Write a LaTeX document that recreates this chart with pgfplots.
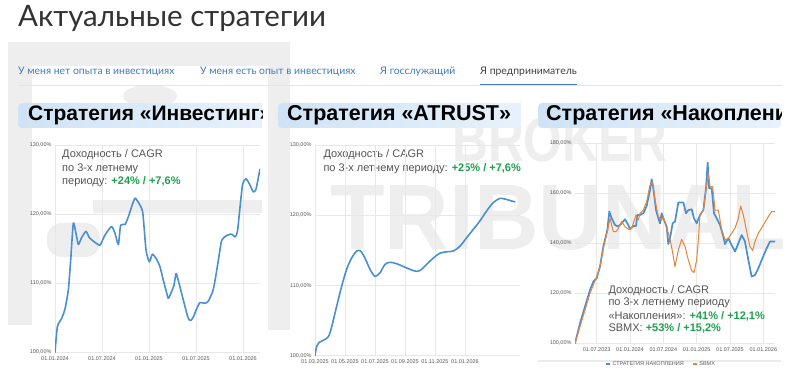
\documentclass[border=0pt]{standalone}
\usepackage{fontspec}
\setmainfont{Liberation Sans}
\newfontfamily\lato{Lato}
\usepackage{graphicx}
\usepackage{pgfplots}
\usepackage{pgfplotstable}
\pgfplotsset{compat=1.18}
\definecolor{lblue}{HTML}{4A8FD2}
\definecolor{lorange}{HTML}{E5853B}
\definecolor{gridc}{HTML}{E8E8E8}
\definecolor{tickc}{HTML}{5A5A5A}
\definecolor{annc}{HTML}{555555}
\definecolor{greenc}{HTML}{1DA04E}
\definecolor{tabblue}{HTML}{3F7CBF}
\definecolor{wm}{HTML}{EEEEEE}
\definecolor{hboxL}{HTML}{CFE3F6}
\definecolor{hboxR}{HTML}{E8F2FB}

\pgfplotstableread{
m v
0 100
0.30 103.7
0.85 104.9
1.28 106.3
1.70 109.0
2.00 113.3
2.34 118.7
2.68 117.2
2.98 115.6
3.40 116.6
3.96 117.5
4.38 116.6
5.11 115.9
5.74 115.5
6.17 116.5
6.51 117.2
7.23 118.2
7.66 117.2
8.09 115.6
8.38 118.4
8.94 118.5
9.36 119.6
9.79 121.1
10.21 122.3
10.64 121.7
11.19 120.3
11.62 114.8
12.04 113.1
12.43 114.2
12.89 113.6
13.40 112.4
13.83 110.4
14.26 108.6
14.47 107.8
14.89 108.8
15.19 109.7
15.45 111.4
15.74 110.4
16.17 108.5
16.60 106.6
17.02 104.9
17.32 104.6
17.66 105.1
18.09 106.3
18.51 107.2
19.15 107.1
19.57 107.4
20.13 108.8
20.43 110.4
20.85 113.3
21.28 116.2
21.91 116.9
22.55 117.1
22.98 116.7
23.28 117.4
23.62 121.0
23.96 124.4
24.38 125.1
24.81 124.4
25.32 123.2
25.66 123.6
25.96 125.3
26.17 126.5
}\investing

\pgfplotstableread{
m v
0 100
0.11 101.3
0.29 101.9
0.56 102.2
0.89 102.7
1.11 104.1
1.44 107.0
1.78 109.9
2.11 112.3
2.44 113.9
2.78 114.9
3.04 114.9
3.33 113.9
3.67 112.3
4.00 111.3
4.33 111.8
4.67 113.0
5.00 113.3
5.44 113.1
5.89 112.7
6.33 112.3
6.78 112.0
7.11 112.3
7.44 113.0
7.89 113.9
8.33 114.6
8.78 114.8
9.22 114.9
9.67 115.6
10.11 116.8
10.56 118.0
11.00 119.2
11.44 120.6
11.89 121.8
12.33 122.4
12.67 122.3
13.00 122.1
13.33 121.9
}\atrust

\pgfplotstableread{
m v
2.10 100
3.00 108
3.90 114.7
4.80 121.3
5.40 124.7
6.00 126
6.60 130.7
7.20 138.7
7.92 145.3
8.28 152.7
8.70 150
9.30 147.3
9.90 146.7
10.50 148
11.10 149.6
11.70 147.3
12.00 145.6
12.60 146.9
13.08 146.9
13.32 151.3
13.80 151.3
14.40 152
15.00 154.9
15.60 161.3
15.90 165.6
16.20 162
16.68 153.3
17.10 150
17.40 148
17.70 152
18.00 150
18.60 146.7
18.90 139.7
19.20 142
19.68 148
20.10 148.7
20.70 156.3
21.60 156.3
22.08 152
22.50 153.3
23.10 153.6
23.52 150
24.00 148
24.60 151.3
25.20 153.3
25.68 162
25.98 172.3
26.22 162
26.70 162
27.12 152
27.60 150
28.20 147.3
28.80 142.7
29.10 139.7
29.70 142
30.30 139.3
30.90 136.7
31.50 140
32.10 143.3
32.70 140.7
33.30 133.3
33.90 126.7
34.50 127.3
35.10 130
35.70 133.3
36.60 138
37.20 140.7
38.10 140.7
}\nakop

\pgfplotstableread{
m v
2.10 100
3.00 106.7
3.90 113.3
4.80 120
5.40 123.3
6.00 126.7
6.60 130.7
7.20 138
7.92 144.7
8.40 150
9.00 144.7
9.48 144.7
9.90 146
10.50 148.7
11.10 146.7
11.70 145.6
12.30 146
13.08 151.3
13.50 149.3
13.80 152
14.40 153.3
15.00 156.7
15.60 163.3
16.08 164.3
16.50 157.3
17.10 150.7
17.70 149.3
18.00 150.7
18.60 146
19.20 142
19.80 134.7
20.10 130.7
20.70 137.3
21.30 141.6
21.90 138.7
22.50 133.3
23.10 129.1
23.52 128.3
24.00 133.3
24.30 141.3
24.60 151.3
25.20 153.3
25.80 163.3
26.10 168
26.40 162.7
26.88 162.7
27.30 153.3
27.90 153.3
28.50 145.3
29.10 141.3
29.70 142
30.30 144
30.90 146
31.50 150
31.92 154.9
32.40 151.3
33.00 144.7
33.60 138.7
34.08 137.1
34.50 140.7
35.10 144
36.00 147.3
36.90 150.7
37.50 152.7
38.10 152.7
}\sbmx

\pgfplotsset{
  cardaxis/.style={
    scale only axis,
    axis line style={draw=none},
    major tick length=0pt,
    xmajorgrids, ymajorgrids,
    grid style={draw=gridc, line width=0.5pt},
    tick label style={font=\fontsize{5.5}{6}\selectfont, text=tickc},
    xticklabel style={yshift=-0.5pt},
    every axis plot/.append style={line join=round, line cap=round, no markers},
  }
}

\begin{document}
\begin{tikzpicture}[x=1pt,y=1pt]
\path[use as bounding box] (0pt,0pt) rectangle (800pt,369pt);
\fill[white] (0pt,0pt) rectangle (800pt,369pt);

% watermark logo (left)
\fill[wm] (8pt,44pt) rectangle (32pt,327pt);
\fill[wm] (8pt,303pt) rectangle (290pt,327pt);
\fill[wm] (268pt,39pt) rectangle (290pt,327pt);
\fill[wm] (150pt,273pt) ellipse (27pt and 11pt);
\fill[wm] (93pt,156pt) rectangle (262pt,169pt);
\fill[wm, rounded corners=15pt] (47pt,112pt) rectangle (100pt,146pt);
% watermark text
\node[anchor=base west, inner sep=0, text=wm] at (452pt,207pt) {\scalebox{0.8}[1]{\fontsize{62}{62}\selectfont\bfseries BROKER}};
\node[anchor=base west, inner sep=0, text=wm] at (330pt,119pt) {\scalebox{0.96}[1]{\fontsize{93}{93}\selectfont\bfseries TRIBUNAL}};

% page title
\node[anchor=base west, inner sep=0, text=black!80] at (18pt,342.3pt) {\lato\fontsize{29.5}{33}\selectfont Актуальные стратегии};

% tabs
\begin{scope}[every node/.style={anchor=base west, inner sep=0, font=\lato\fontsize{10.4}{12}\selectfont}]
\node[text=tabblue] at (18pt,294pt) {У меня нет опыта в инвестициях};
\node[text=tabblue] at (200pt,294pt) {У меня есть опыт в инвестициях};
\node[text=tabblue] at (380pt,294pt) {Я госслужащий};
\node[text=black!75] at (480pt,294pt) {Я предприниматель};
\end{scope}
\draw[black!10, line width=0.6pt] (18pt,284pt) -- (782pt,284pt);
\draw[tabblue, line width=1.4pt] (480pt,284.6pt) -- (577pt,284.6pt);

% ===== Card 1 =====
\begin{scope}
\clip (10pt,0pt) rectangle (262pt,275pt);
\shade[left color=hboxL, right color=hboxR, rounded corners=4pt] (18pt,241pt) rectangle (275pt,266pt);
\node[anchor=base west, inner sep=0] at (28pt,248pt) {\fontsize{21}{24}\selectfont\bfseries Стратегия «Инвестинг»};
\end{scope}
\begin{scope}
\clip (10pt,0pt) rectangle (262pt,275pt);
\begin{axis}[cardaxis, at={(55pt,16.7pt)}, anchor=south west,
  width=205pt, height=207.3pt,
  xmin=0, xmax=26.17, ymin=100, ymax=130,
  xtick={0,6,12,18,24},
  xticklabels={01.01.2024,01.07.2024,01.01.2025,01.07.2025,01.01.2026},
  ytick={100,110,120,130},
  yticklabels={{100,00\%},{110,00\%},{120,00\%},{130,00\%}}]
\addplot[lblue, line width=1.6pt, smooth, tension=0.35] table[x=m,y=v] {\investing};
\end{axis}
\end{scope}
\begin{scope}[every node/.style={anchor=base west, inner sep=0, text=annc, font=\fontsize{11}{13}\selectfont}]
\node at (62pt,211.7pt) {Доходность / CAGR};
\node at (62pt,197.3pt) {по 3-х летнему};
\node at (62pt,184pt) {периоду: \textcolor{greenc}{\bfseries +24\% / +7,6\%}};
\end{scope}

% ===== Card 2 =====
\begin{scope}
\clip (270pt,0pt) rectangle (521pt,275pt);
\shade[left color=hboxL, right color=hboxR, rounded corners=4pt] (278pt,241pt) rectangle (530pt,266pt);
\node[anchor=base west, inner sep=0] at (287pt,248pt) {\fontsize{21.5}{24}\selectfont\bfseries Стратегия «ATRUST»};
\node[anchor=base west, inner sep=0, text=annc, font=\fontsize{11}{13}\selectfont] at (323.3pt,211.7pt) {Доходность / CAGR};
\node[anchor=base west, inner sep=0, text=annc, font=\fontsize{11}{13}\selectfont] at (323.3pt,197.3pt) {по 3-х летнему периоду:\hspace{4pt}\textcolor{greenc}{\bfseries +25\% / +7,6\%}};
\end{scope}
\begin{scope}
\clip (270pt,0pt) rectangle (521pt,275pt);
\begin{axis}[cardaxis, at={(315pt,13.3pt)}, anchor=south west,
  width=205pt, height=210.7pt,
  xmin=0, xmax=13.67, ymin=100, ymax=130,
  xtick={0,2,4,6,8,10},
  xticklabels={01.03.2025,01.05.2025,01.07.2025,01.09.2025,01.11.2025,01.01.2026},
  ytick={100,110,120,130},
  yticklabels={{100,00\%},{110,00\%},{120,00\%},{130,00\%}}]
\addplot[lblue, line width=1.6pt, smooth, tension=0.5] table[x=m,y=v] {\atrust};
\end{axis}
\end{scope}

% ===== Card 3 =====
\begin{scope}
\clip (530pt,0pt) rectangle (781pt,275pt);
\shade[left color=hboxL, right color=hboxR, rounded corners=4pt] (538pt,241pt) rectangle (781pt,266pt);
\node[anchor=base west, inner sep=0] at (546pt,248pt) {\fontsize{21.5}{24}\selectfont\bfseries Стратегия «Накопления»};
\draw[black!8, line width=2pt] (538pt,8pt) -- (781pt,8pt);
\end{scope}
\begin{scope}
\clip (530pt,0pt) rectangle (781pt,275pt);
\begin{axis}[cardaxis, at={(575pt,25.7pt)}, anchor=south west,
  width=200pt, height=200pt,
  xmin=2.1, xmax=38.1, ymin=100, ymax=180,
  xtick={6,12,18,24,30,36},
  xticklabels={01.07.2023,01.01.2024,01.07.2024,01.01.2025,01.07.2025,01.01.2026},
  ytick={100,120,140,160,180},
  yticklabels={{100,00\%},{120,00\%},{140,00\%},{160,00\%},{180,00\%}},
  legend columns=2,
  legend style={draw=none, fill=none, at={(0.43,-0.1035)}, anchor=center,
    font=\fontsize{5.5}{6}\selectfont, text=tickc,
    /tikz/every even column/.append style={column sep=6pt}},
  legend image code/.code={\draw[#1, line width=1.5pt, line cap=butt] (0pt,0pt) -- (4pt,0pt);}]
\addplot[lblue, line width=1.7pt] table[x=m,y=v] {\nakop};
\addlegendentry{СТРАТЕГИЯ НАКОПЛЕНИЯ}
\addplot[lorange, line width=1pt] table[x=m,y=v] {\sbmx};
\addlegendentry{SBMX}
\end{axis}
\end{scope}
\begin{scope}[every node/.style={anchor=base west, inner sep=0, text=annc, font=\fontsize{11}{13}\selectfont}]
\node at (608.3pt,75.7pt) {Доходность / CAGR};
\node at (608.3pt,63pt) {по 3-х летнему периоду};
\node at (608.3pt,49.7pt) {«Накопления»: \textcolor{greenc}{\bfseries +41\% / +12,1\%}};
\node at (608.3pt,37.3pt) {SBMX: \textcolor{greenc}{\bfseries +53\% / +15,2\%}};
\end{scope}
\end{tikzpicture}
\end{document}
